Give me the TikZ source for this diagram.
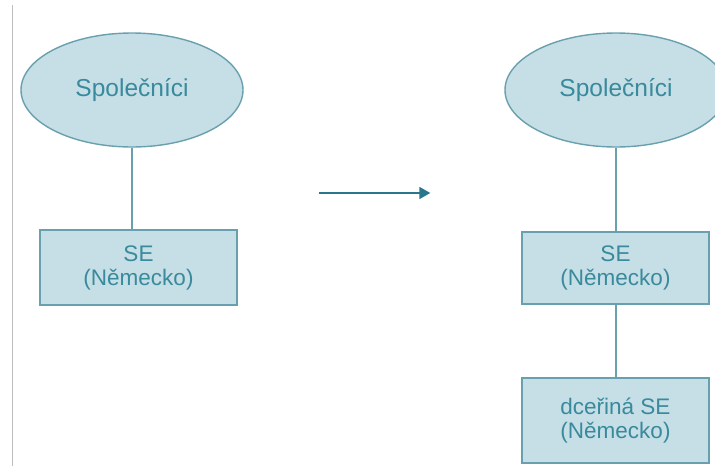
\documentclass[tikz,border=0pt]{standalone}
\usepackage{fontspec}
\setmainfont{Liberation Sans}
\usetikzlibrary{shapes.geometric,arrows.meta}
\definecolor{boxfill}{RGB}{198,222,229}
\definecolor{boxline}{RGB}{104,160,174}
\definecolor{txt}{RGB}{56,138,156}
\definecolor{arrowc}{RGB}{42,118,140}
\definecolor{rule}{RGB}{190,190,190}
\tikzset{
  owners/.style={ellipse, draw=boxline, fill=boxfill, line width=1.4pt,
    minimum width=222pt, minimum height=114pt, inner sep=0pt,
    text=txt, font=\fontsize{24.5}{26}\selectfont},
  entity/.style={rectangle, draw=boxline, fill=boxfill, line width=1.4pt,
    minimum width=187pt, inner sep=0pt, align=center,
    text=txt, font=\fontsize{22.5}{24}\selectfont},
  link/.style={draw=boxline, line width=1.4pt}
}
\begin{document}
\begin{tikzpicture}[x=1pt,y=-1pt]
\useasboundingbox (0,0) rectangle (715,466);
\clip (0,0) rectangle (715,466);
\fill[white] (0,0) rectangle (715,466);
% thin rule at the left edge
\coordinate (rt) at (12,5);
\coordinate (rb) at (12,466);
\draw[rule, line width=1pt] (rt) -- (rb);

% before: shareholders over one SE
\node[owners] (o1) at (132,90) {Společníci};
\node[entity, minimum width=197pt, minimum height=75pt] (s1) at (138.5,267.5) {SE\\(Německo)};
\draw[link] (o1.south) -- (s1.north -| o1.south);

% transition arrow
\node[inner sep=0pt] (af) at (318,193) {};
\node[inner sep=0pt] (at) at (431,193) {};
\draw[arrowc, line width=1.6pt, -{Triangle[length=11pt,width=12pt]}] (af) -- (at);

% after: shareholders, SE and its subsidiary SE
\node[owners] (o2) at (616,90) {Společníci};
\node[entity, minimum height=72pt] (s2) at (615.5,268) {SE\\(Německo)};
\node[entity, minimum height=85pt] (s3) at (615.5,420.5) {dceřiná SE\\(Německo)};
\draw[link] (o2.south) -- (s2.north -| o2.south);
\draw[link] (s2.south -| o2.south) -- (s3.north -| o2.south);
\end{tikzpicture}
\end{document}
